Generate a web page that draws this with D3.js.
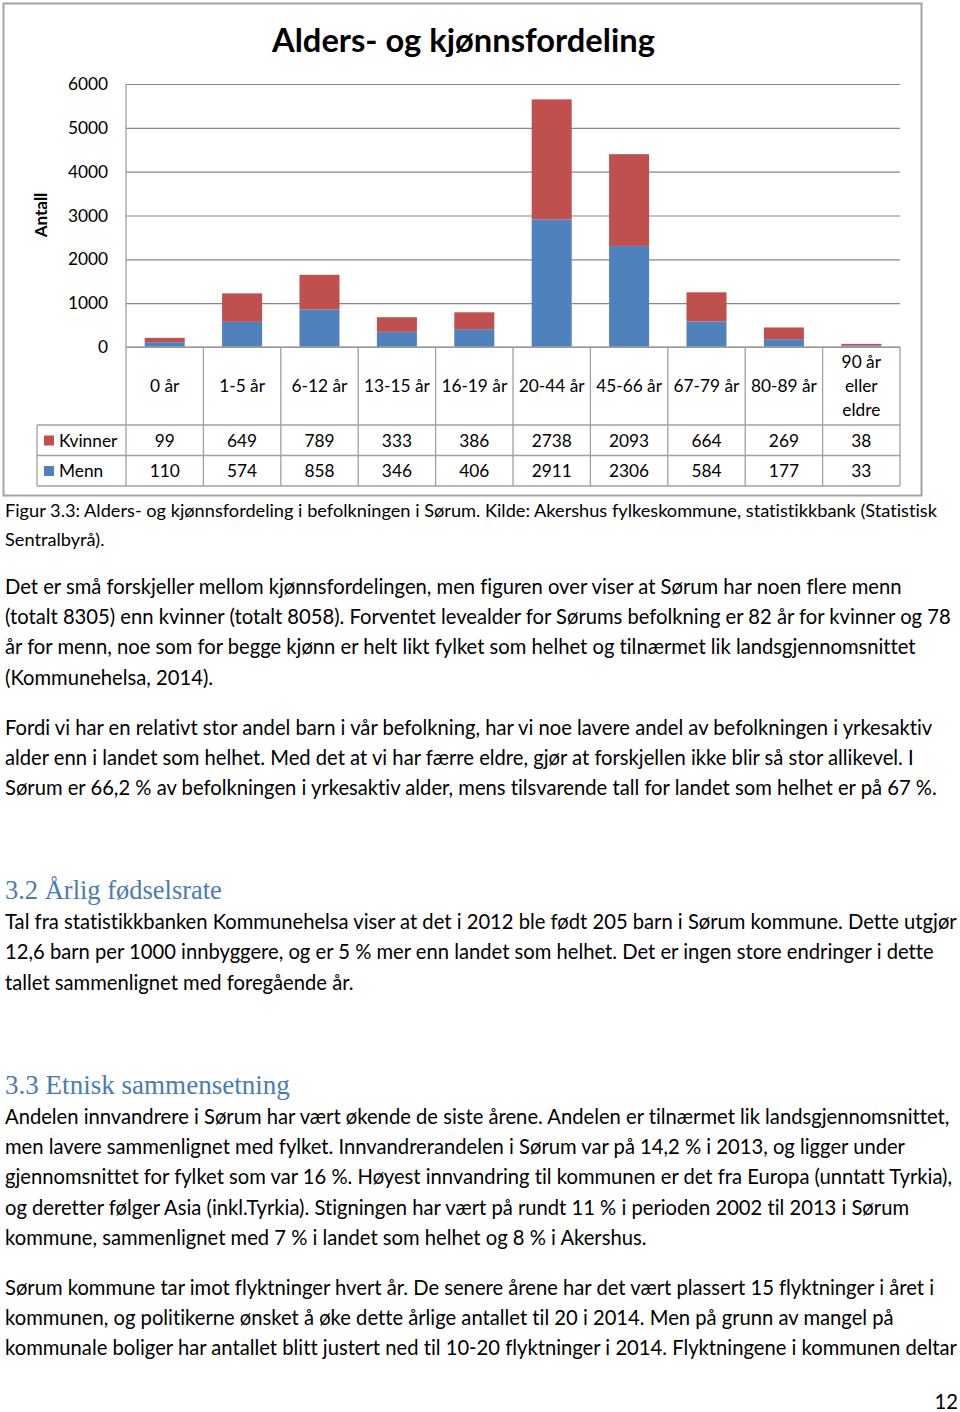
<!DOCTYPE html>
<html><head><meta charset="utf-8">
<script src="https://cdn.jsdelivr.net/npm/d3@7"></script>
<style>
html,body{margin:0;padding:0;background:#fff;}
svg{display:block;}
text{font-family:Lato,"Noto Sans",sans-serif;fill:#000;font-variant-ligatures:none;font-feature-settings:"liga" 0,"dlig" 0,"clig" 0;}
text.serif{font-family:"Liberation Serif","DejaVu Serif",serif;fill:#4A7BB4;}
</style></head>
<body>
<script>
// ---- data ----
const categories = ["0 år","1-5 år","6-12 år","13-15 år","16-19 år","20-44 år","45-66 år","67-79 år","80-89 år","90 år eller eldre"];
const categoryLines = [["0 år"],["1-5 år"],["6-12 år"],["13-15 år"],["16-19 år"],["20-44 år"],["45-66 år"],["67-79 år"],["80-89 år"],["90 år","eller","eldre"]];
const kvinner = [99,649,789,333,386,2738,2093,664,269,38];
const menn = [110,574,858,346,406,2911,2306,584,177,33];
const seriesNames = ["Kvinner","Menn"];
const seriesColors = {Kvinner:"#C0504D", Menn:"#4F81BD"};
const yTicks = [0,1000,2000,3000,4000,5000,6000];
const chartTitle = "Alders- og kjønnsfordeling";
const yTitle = "Antall";

const caption = ["Figur 3.3: Alders- og kjønnsfordeling i befolkningen i Sørum. Kilde: Akershus fylkeskommune, statistikkbank (Statistisk","Sentralbyrå)."];
const para1 = ["Det er små forskjeller mellom kjønnsfordelingen, men figuren over viser at Sørum har noen flere menn",
"(totalt 8305) enn kvinner (totalt 8058). Forventet levealder for Sørums befolkning er 82 år for kvinner og 78",
"år for menn, noe som for begge kjønn er helt likt fylket som helhet og tilnærmet lik landsgjennomsnittet",
"(Kommunehelsa, 2014)."];
const para2 = ["Fordi vi har en relativt stor andel barn i vår befolkning, har vi noe lavere andel av befolkningen i yrkesaktiv",
"alder enn i landet som helhet. Med det at vi har færre eldre, gjør at forskjellen ikke blir så stor allikevel. I",
"Sørum er 66,2 % av befolkningen i yrkesaktiv alder, mens tilsvarende tall for landet som helhet er på 67 %."];
const heading1 = "3.2 Årlig fødselsrate";
const para3 = ["Tal fra statistikkbanken Kommunehelsa viser at det i 2012 ble født 205 barn i Sørum kommune. Dette utgjør",
"12,6 barn per 1000 innbyggere, og er 5 % mer enn landet som helhet. Det er ingen store endringer i dette",
"tallet sammenlignet med foregående år."];
const heading2 = "3.3 Etnisk sammensetning";
const para4 = ["Andelen innvandrere i Sørum har vært økende de siste årene. Andelen er tilnærmet lik landsgjennomsnittet,",
"men lavere sammenlignet med fylket. Innvandrerandelen i Sørum var på 14,2 % i 2013, og ligger under",
"gjennomsnittet for fylket som var 16 %. Høyest innvandring til kommunen er det fra Europa (unntatt Tyrkia),",
"og deretter følger Asia (inkl.Tyrkia). Stigningen har vært på rundt 11 % i perioden 2002 til 2013 i Sørum",
"kommune, sammenlignet med 7 % i landet som helhet og 8 % i Akershus."];
const para5 = ["Sørum kommune tar imot flyktninger hvert år. De senere årene har det vært plassert 15 flyktninger i året i",
"kommunen, og politikerne ønsket å øke dette årlige antallet til 20 i 2014. Men på grunn av mangel på",
"kommunale boliger har antallet blitt justert ned til 10-20 flyktninger i 2014. Flyktningene i kommunen deltar"];
const pageNumber = "12";

// ---- drawing ----
const W = 960, H = 1412;
const svg = d3.select("body").append("svg").attr("width", W).attr("height", H);
svg.append("rect").attr("width", W).attr("height", H).attr("fill", "#fff");

function fit(sel, target){
  const n = sel.node(); const fs = parseFloat(sel.attr("font-size"));
  const w = n.getComputedTextLength();
  const nf = fs * target / w; sel.attr("font-size", nf); return nf;
}

// chart frame
svg.append("rect").attr("x",3.5).attr("y",3.5).attr("width",918).attr("height",492)
  .attr("fill","none").attr("stroke","#a3a3a3").attr("stroke-width",2);

const plotL = 126, plotR = 900, plotT = 84, plot0 = 347;
const y = d3.scaleLinear().domain([0,6000]).range([plot0, plotT]);
const x = d3.scaleBand().domain(categories).range([plotL, plotR]).paddingInner(0.483).paddingOuter(0.2415);
const colW = (plotR - plotL) / categories.length;

// gridlines + tick labels
const yAxis = d3.axisLeft(y).tickValues(yTicks).tickFormat(d3.format("d")).tickSize(-(plotR-plotL)).tickPadding(18);
const gA = svg.append("g").attr("transform",`translate(${plotL},0)`).call(yAxis);
gA.select(".domain").remove();
gA.selectAll(".tick line").attr("stroke","#878787").attr("stroke-width",1.2);
gA.selectAll(".tick text").attr("font-size",17.3).attr("fill","#000").attr("x",-18);

// title
const t = svg.append("text").attr("x",463.5).attr("y",52).attr("text-anchor","middle")
  .attr("font-weight","bold").attr("font-size",30).text(chartTitle);
fit(t, 383);

// y title
svg.append("text").attr("transform","translate(47,215) rotate(-90)").attr("text-anchor","middle")
  .attr("font-weight","bold").attr("font-size",17).text(yTitle);

// bars
const rows = categories.map((c,i)=>({cat:c, Menn:menn[i], Kvinner:kvinner[i]}));
const stack = d3.stack().keys(["Menn","Kvinner"])(rows);
svg.append("g").selectAll("g").data(stack).join("g")
  .attr("fill", d=>seriesColors[d.key])
  .selectAll("rect").data(d=>d).join("rect")
  .attr("x", d=>x(d.data.cat)).attr("width", x.bandwidth())
  .attr("y", d=>y(d[1])).attr("height", d=>y(d[0])-y(d[1]));

// data table
const tLeft = 37, hdrB = 425, r1B = 455.5, r2B = 486;
const lineC = "#a0a0a0";
const tg = svg.append("g").attr("stroke", lineC).attr("stroke-width",1.3);
tg.append("line").attr("x1",plotL).attr("x2",plotL).attr("y1",plotT).attr("y2",r2B);
tg.append("line").attr("x1",plotL).attr("x2",plotR).attr("y1",plot0).attr("y2",plot0);
[hdrB,r1B,r2B].forEach(yy=>tg.append("line").attr("x1",tLeft).attr("x2",plotR).attr("y1",yy).attr("y2",yy));
tg.append("line").attr("x1",tLeft).attr("x2",tLeft).attr("y1",hdrB).attr("y2",r2B);
categories.forEach((c,i)=>{
  const xx = plotL + (i+1)*colW;
  tg.append("line").attr("x1",xx).attr("x2",xx).attr("y1",plot0).attr("y2",r2B);
});
// header labels
categoryLines.forEach((lines,i)=>{
  const cx = x(categories[i]) + x.bandwidth()/2;
  const n = lines.length, lh = 24;
  lines.forEach((s,j)=>{
    svg.append("text").attr("x",cx).attr("y",386 + (j-(n-1)/2)*lh).attr("dy","0.35em")
      .attr("text-anchor","middle").attr("font-size",17.3).text(s);
  });
});
// rows
const rowData = [{name:"Kvinner", vals:kvinner, cy:440.5},{name:"Menn", vals:menn, cy:471}];
rowData.forEach(r=>{
  svg.append("rect").attr("x",44).attr("y",r.cy-5).attr("width",10).attr("height",10).attr("fill",seriesColors[r.name]);
  svg.append("text").attr("x",59).attr("y",r.cy).attr("dy","0.35em").attr("font-size",17.3).text(r.name);
  r.vals.forEach((v,i)=>{
    svg.append("text").attr("x",x(categories[i])+x.bandwidth()/2).attr("y",r.cy).attr("dy","0.35em")
      .attr("text-anchor","middle").attr("font-size",17.3).text(v);
  });
});

// body text
const bodyX = 5;
function block(lines, ys, fs){
  return lines.map((s,i)=>svg.append("text").attr("x",bodyX).attr("y",ys[i]).attr("dy","0.35em")
    .attr("font-size",fs).text(s));
}
const probe = svg.append("text").attr("font-size",20).text(para2[0]);
const bodyFs = fit(probe, 928); probe.remove();
const probe2 = svg.append("text").attr("font-size",20).text(caption[0]);
const capFs = fit(probe2, 933); probe2.remove();

block(caption,[511,540],capFs);
block(para1,[587,617,647,678],bodyFs);
block(para2,[728,758,788],bodyFs);
const h1 = svg.append("text").attr("class","serif").attr("x",bodyX).attr("y",890).attr("dy","0.35em").attr("font-size",24).text(heading1);
fit(h1, 217);
block(para3,[922,952,983],bodyFs);
const h2 = svg.append("text").attr("class","serif").attr("x",bodyX).attr("y",1085).attr("dy","0.35em").attr("font-size",24).text(heading2);
fit(h2, 285);
block(para4,[1117,1147,1177,1208,1238],bodyFs);
block(para5,[1288,1318,1348],bodyFs);
svg.append("text").attr("x",958).attr("y",1402).attr("dy","0.35em").attr("text-anchor","end")
  .attr("font-size",bodyFs).text(pageNumber);
</script>
</body></html>
